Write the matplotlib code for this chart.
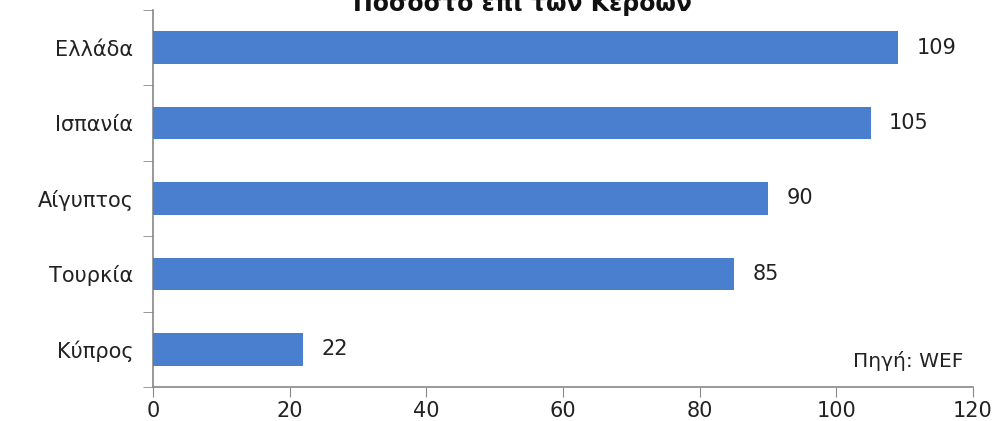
import matplotlib
matplotlib.use("Agg")
import matplotlib.pyplot as plt
import numpy as np

countries = ["Ελλάδα", "Ισπανία", "Αίγυπτος", "Τουρκία", "Κύπρος"]
values = [109, 105, 90, 85, 22]
title = "Ποσοστό επί των Κερδών"
source = "Πηγή: WEF"
xticks = [0, 20, 40, 60, 80, 100, 120]

plt.rcParams['font.family'] = ['DejaVu Sans']

fig = plt.figure(figsize=(10.02, 4.21), dpi=100)
ax = fig.add_axes([153/1002, 1-387/421, (973-153)/1002, (387-10)/421])

n = len(countries)
ypos = np.arange(n)[::-1]
ax.barh(ypos, values, height=0.43, color='#4a7fcf', zorder=3)
for y, v in zip(ypos, values):
    ax.text(v + 2.7, y, str(v), va='center', ha='left', fontsize=15, color='#222222')

ax.set_xlim(0, 120)
ax.set_ylim(-0.5, n - 0.5)
ax.set_xticks(xticks)
ax.set_xticklabels([str(t) for t in xticks], fontsize=15, color='#222222')
ax.set_yticks(ypos)
ax.set_yticklabels(countries, fontsize=15, color='#222222')
ax.set_yticks(np.arange(-0.5, n, 1.0), minor=True)
ax.tick_params(axis='y', which='major', length=0, pad=14)
ax.tick_params(axis='y', which='minor', length=7, color='#888888', direction='out')
ax.tick_params(axis='x', length=7, color='#888888', direction='out', pad=3)

for s in ['top', 'right']:
    ax.spines[s].set_visible(False)
for s in ['left', 'bottom']:
    ax.spines[s].set_color('#888888')
    ax.spines[s].set_linewidth(1.2)

fig.text(522/1002, 1 - 3/421, title, ha='center', va='center', fontsize=17, fontweight='bold', color='#111111')
ax.text(0.988, 0.07, source, transform=ax.transAxes, ha='right', va='center', fontsize=14.5, color='#222222')

fig.savefig("out.png", dpi=100, facecolor='white')
